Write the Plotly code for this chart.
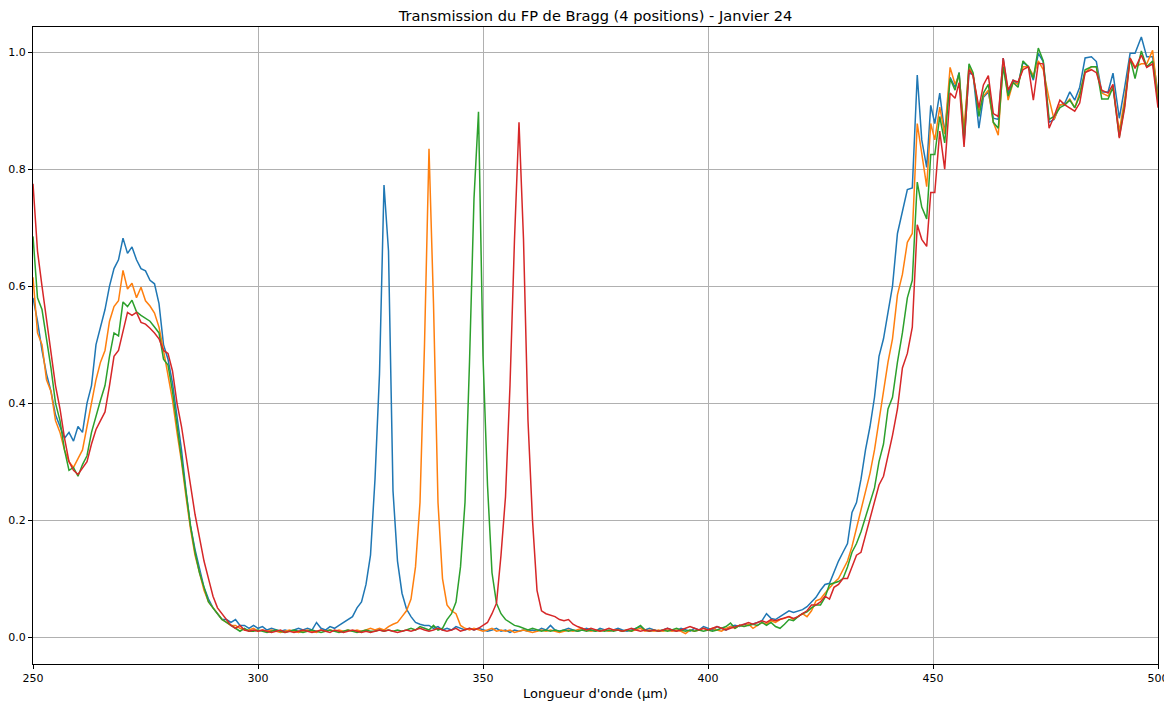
import plotly.graph_objects as go

# Wavelength sampling (µm): 1 µm steps, then ~1.1 µm steps
wl_left = list(range(250, 442))
wl_right = [442.1, 443.2, 444.3, 445.4, 446.5, 447.5, 448.6, 449.5, 450.4, 451.5,
            452.6, 453.8, 454.9, 455.8, 456.9, 458.0, 458.9, 460.2, 461.2, 462.3,
            463.4, 464.5, 465.6, 466.7, 467.8, 468.9, 470.0, 471.2, 472.3, 473.4,
            474.5, 475.8, 476.9, 478.2, 479.3, 480.4, 481.5, 482.6, 483.8, 485.2,
            486.3, 487.5, 488.9, 490.0, 491.4, 492.6, 493.8, 494.9, 496.3, 497.5,
            498.8, 500.0]
wavelength = wl_left + wl_right

pos1 = [
    0.58, 0.54, 0.49, 0.45, 0.42, 0.38, 0.36, 0.34, 0.35, 0.335,
    0.36, 0.35, 0.40, 0.43, 0.50, 0.53, 0.56, 0.60, 0.63, 0.645,
    0.682, 0.656, 0.667, 0.645, 0.63, 0.626, 0.61, 0.604, 0.57, 0.50,
    0.475, 0.434, 0.38, 0.32, 0.25, 0.19, 0.15, 0.115, 0.085, 0.065,
    0.05, 0.04, 0.03, 0.03, 0.025, 0.03, 0.02, 0.02, 0.015, 0.02,
    0.015, 0.018, 0.012, 0.015, 0.012, 0.01, 0.012, 0.01, 0.012, 0.015,
    0.012, 0.015, 0.012, 0.025, 0.015, 0.012, 0.018, 0.015, 0.02, 0.025,
    0.03, 0.035, 0.05, 0.06, 0.09, 0.14, 0.27, 0.45, 0.773, 0.66,
    0.25, 0.13, 0.075, 0.048, 0.035, 0.025, 0.022, 0.02, 0.02, 0.015,
    0.018, 0.012, 0.015, 0.012, 0.018, 0.015, 0.012, 0.015, 0.012, 0.015,
    0.012, 0.01, 0.012, 0.015, 0.01, 0.012, 0.008, 0.012, 0.01, 0.012,
    0.01, 0.012, 0.01, 0.015, 0.012, 0.02, 0.012, 0.01, 0.012, 0.015,
    0.012, 0.01, 0.012, 0.015, 0.012, 0.01, 0.015, 0.012, 0.01, 0.012,
    0.015, 0.012, 0.01, 0.012, 0.015, 0.018, 0.012, 0.015, 0.012, 0.01,
    0.012, 0.015, 0.012, 0.01, 0.015, 0.012, 0.01, 0.015, 0.012, 0.018,
    0.015, 0.012, 0.018, 0.015, 0.012, 0.018, 0.02, 0.018, 0.022, 0.02,
    0.022, 0.025, 0.028, 0.04, 0.032, 0.03, 0.035, 0.04, 0.045, 0.042,
    0.045, 0.047, 0.052, 0.06, 0.068, 0.08, 0.09, 0.092, 0.112, 0.13,
    0.145, 0.16, 0.213, 0.23, 0.27, 0.32, 0.36, 0.41, 0.48, 0.51,
    0.555, 0.60,
    0.69, 0.725, 0.765, 0.768, 0.961, 0.85, 0.803, 0.909, 0.878, 0.93,
    0.861, 0.957, 0.94, 0.965, 0.844, 0.964, 0.962, 0.87, 0.923, 0.932,
    0.887, 0.885, 0.99, 0.93, 0.952, 0.945, 0.983, 0.975, 0.952, 0.998,
    0.984, 0.88, 0.885, 0.909, 0.913, 0.932, 0.918, 0.94, 0.99, 0.992,
    0.984, 0.932, 0.932, 0.964, 0.887, 0.94, 0.998, 0.998, 1.026, 0.992,
    0.992, 0.93,
]

pos2 = [
    0.615, 0.52, 0.50, 0.44, 0.42, 0.37, 0.35, 0.32, 0.30, 0.29,
    0.305, 0.32, 0.36, 0.40, 0.44, 0.47, 0.49, 0.54, 0.565, 0.575,
    0.627, 0.595, 0.605, 0.58, 0.598, 0.575, 0.566, 0.554, 0.53, 0.49,
    0.45, 0.405, 0.35, 0.30, 0.24, 0.185, 0.14, 0.11, 0.08, 0.06,
    0.05, 0.04, 0.03, 0.025, 0.02, 0.02, 0.015, 0.012, 0.012, 0.015,
    0.01, 0.012, 0.01, 0.012, 0.01, 0.008, 0.01, 0.012, 0.01, 0.008,
    0.01, 0.012, 0.01, 0.008, 0.012, 0.01, 0.012, 0.01, 0.012, 0.01,
    0.012, 0.01, 0.012, 0.01, 0.012, 0.015, 0.012, 0.015, 0.012, 0.018,
    0.022, 0.025, 0.035, 0.045, 0.065, 0.12, 0.23, 0.50, 0.835, 0.57,
    0.23, 0.10, 0.055, 0.045, 0.04, 0.02, 0.015, 0.012, 0.015, 0.012,
    0.01, 0.012, 0.015, 0.01, 0.012, 0.01, 0.012, 0.008, 0.01, 0.012,
    0.01, 0.008, 0.01, 0.012, 0.01, 0.012, 0.01, 0.008, 0.01, 0.012,
    0.01, 0.012, 0.015, 0.012, 0.01, 0.012, 0.01, 0.012, 0.01, 0.012,
    0.012, 0.01, 0.012, 0.01, 0.012, 0.015, 0.01, 0.012, 0.01, 0.012,
    0.01, 0.012, 0.01, 0.012, 0.01, 0.006, 0.012, 0.01, 0.012, 0.015,
    0.012, 0.015, 0.012, 0.01, 0.015, 0.018, 0.015, 0.02, 0.018, 0.022,
    0.015, 0.02, 0.025, 0.022, 0.028, 0.025, 0.03, 0.032, 0.035, 0.03,
    0.035, 0.04, 0.035, 0.045, 0.062, 0.065, 0.075, 0.085, 0.093, 0.10,
    0.115, 0.13, 0.155, 0.185, 0.215, 0.245, 0.28, 0.32, 0.37, 0.42,
    0.47, 0.51,
    0.585, 0.62, 0.675, 0.69, 0.878, 0.827, 0.77, 0.878, 0.85, 0.906,
    0.86, 0.974, 0.945, 0.96, 0.87, 0.975, 0.96, 0.90, 0.925, 0.935,
    0.88, 0.858, 0.985, 0.918, 0.948, 0.945, 0.975, 0.975, 0.96, 0.985,
    0.97, 0.92, 0.885, 0.91, 0.91, 0.92, 0.905, 0.93, 0.965, 0.975,
    0.975, 0.93, 0.925, 0.94, 0.865, 0.92, 0.99, 0.975, 0.98, 0.98,
    1.003, 0.92,
]

pos3 = [
    0.685, 0.58, 0.56, 0.51, 0.46, 0.40, 0.37, 0.32, 0.285, 0.29,
    0.275, 0.295, 0.31, 0.35, 0.38, 0.405, 0.43, 0.48, 0.52, 0.515,
    0.573, 0.565, 0.576, 0.556, 0.55, 0.545, 0.54, 0.53, 0.52, 0.475,
    0.465, 0.42, 0.36, 0.30, 0.245, 0.19, 0.145, 0.11, 0.085, 0.06,
    0.05, 0.04, 0.03, 0.025, 0.02, 0.015, 0.01, 0.015, 0.01, 0.01,
    0.012, 0.01, 0.008, 0.01, 0.012, 0.01, 0.008, 0.01, 0.012, 0.01,
    0.008, 0.01, 0.012, 0.01, 0.008, 0.01, 0.012, 0.01, 0.008, 0.01,
    0.012, 0.01, 0.008, 0.01, 0.012, 0.01, 0.01, 0.012, 0.01, 0.012,
    0.01, 0.012, 0.01, 0.012, 0.015, 0.012, 0.018, 0.015, 0.012, 0.02,
    0.012, 0.015, 0.03, 0.04, 0.06, 0.12, 0.23, 0.47, 0.75, 0.898,
    0.48, 0.26, 0.11, 0.058, 0.04, 0.03, 0.025, 0.02, 0.018, 0.015,
    0.012, 0.015, 0.012, 0.01, 0.012, 0.01, 0.012, 0.01, 0.012, 0.01,
    0.012, 0.01, 0.012, 0.01, 0.012, 0.01, 0.012, 0.01, 0.012, 0.01,
    0.012, 0.01, 0.012, 0.01, 0.015, 0.02, 0.012, 0.01, 0.012, 0.01,
    0.012, 0.01, 0.012, 0.015, 0.012, 0.01, 0.012, 0.01, 0.012, 0.01,
    0.012, 0.01, 0.012, 0.015, 0.018, 0.024, 0.015, 0.02, 0.018, 0.02,
    0.022, 0.02, 0.025, 0.02, 0.025, 0.018, 0.015, 0.022, 0.03, 0.028,
    0.035, 0.04, 0.043, 0.05, 0.055, 0.055, 0.068, 0.09, 0.092, 0.095,
    0.10, 0.12, 0.145, 0.16, 0.18, 0.205, 0.23, 0.255, 0.30, 0.33,
    0.39, 0.41,
    0.47, 0.52, 0.58, 0.61, 0.778, 0.735, 0.715, 0.825, 0.825, 0.89,
    0.845, 0.955, 0.935, 0.965, 0.85, 0.98, 0.965, 0.89, 0.93, 0.945,
    0.88, 0.87, 0.975, 0.925, 0.948, 0.94, 0.985, 0.975, 0.955, 1.007,
    0.985, 0.885, 0.89, 0.905, 0.91, 0.918, 0.905, 0.925, 0.97, 0.975,
    0.975, 0.92, 0.92, 0.94, 0.855, 0.91, 0.99, 0.955, 1.002, 0.975,
    0.985, 0.915,
]

pos4 = [
    0.775, 0.66, 0.60, 0.54, 0.48, 0.43, 0.39, 0.34, 0.30, 0.285,
    0.278, 0.29, 0.30, 0.33, 0.355, 0.37, 0.385, 0.43, 0.48, 0.49,
    0.525, 0.555, 0.55, 0.555, 0.538, 0.535, 0.528, 0.52, 0.51, 0.49,
    0.485, 0.455, 0.40, 0.36, 0.31, 0.26, 0.21, 0.17, 0.13, 0.10,
    0.07, 0.05, 0.04, 0.03, 0.02, 0.015, 0.02, 0.012, 0.01, 0.012,
    0.01, 0.012, 0.01, 0.008, 0.01, 0.012, 0.008, 0.01, 0.008, 0.01,
    0.012, 0.01, 0.008, 0.01, 0.012, 0.01, 0.008, 0.012, 0.01, 0.008,
    0.01, 0.012, 0.01, 0.008, 0.01, 0.008, 0.01, 0.012, 0.01, 0.012,
    0.01, 0.008, 0.01, 0.012, 0.01, 0.012, 0.015, 0.012, 0.01, 0.012,
    0.015, 0.012, 0.01, 0.012, 0.015, 0.01, 0.012, 0.015, 0.012, 0.015,
    0.02, 0.025, 0.04, 0.058, 0.14, 0.24, 0.43, 0.68, 0.88, 0.68,
    0.37, 0.20, 0.08, 0.045, 0.04, 0.038, 0.035, 0.03, 0.028, 0.03,
    0.022, 0.018, 0.015, 0.012, 0.015, 0.012, 0.01, 0.012, 0.015, 0.012,
    0.012, 0.01, 0.012, 0.015, 0.012, 0.01, 0.012, 0.01, 0.012, 0.01,
    0.012, 0.015, 0.012, 0.01, 0.012, 0.015, 0.018, 0.015, 0.012, 0.015,
    0.012, 0.015, 0.018, 0.015, 0.012, 0.015, 0.018, 0.02, 0.022, 0.025,
    0.022, 0.025, 0.028, 0.025, 0.03, 0.028, 0.03, 0.032, 0.035, 0.032,
    0.035, 0.04, 0.045, 0.055, 0.055, 0.06, 0.07, 0.065, 0.085, 0.09,
    0.10, 0.10, 0.12, 0.14, 0.145, 0.175, 0.20, 0.23, 0.26, 0.275,
    0.31, 0.345,
    0.39, 0.46, 0.485, 0.53, 0.705, 0.68, 0.668, 0.76, 0.76, 0.865,
    0.80, 0.93, 0.921, 0.948, 0.838, 0.97, 0.96, 0.905, 0.944, 0.96,
    0.895, 0.89, 0.99, 0.935, 0.952, 0.949, 0.97, 0.975, 0.918, 0.981,
    0.98, 0.87, 0.89, 0.918, 0.91, 0.905, 0.899, 0.913, 0.965, 0.97,
    0.965, 0.935, 0.93, 0.945, 0.853, 0.905, 0.99, 0.972, 0.995, 0.974,
    0.98, 0.905,
]

series = [pos1, pos2, pos3, pos4]
colors = ["#1f77b4", "#ff7f0e", "#2ca02c", "#d62728"]
names = ["Position 1", "Position 2", "Position 3", "Position 4"]
x_ticks = [250, 300, 350, 400, 450, 500]
y_ticks = [0.0, 0.2, 0.4, 0.6, 0.8, 1.0]

fig = go.Figure()
for ys, c, n in zip(series, colors, names):
    fig.add_trace(go.Scatter(x=wavelength, y=ys, mode="lines", name=n,
                             line=dict(color=c, width=1.5)))

axis_common = dict(
    showgrid=True, gridcolor="#b0b0b0", gridwidth=0.8,
    showline=True, linecolor="black", linewidth=1, mirror=True,
    ticks="outside", ticklen=4, tickcolor="black", tickwidth=1,
    zeroline=False, automargin=False,
    tickfont=dict(family="DejaVu Sans", size=11, color="black"),
)

# The page body adds an 8 px offset; the figure is sized to fill the rest of the window.
W, H = 1164, 694
fig.update_layout(
    width=W, height=H,
    margin=dict(l=25, r=14, t=19, b=38),
    paper_bgcolor="white", plot_bgcolor="white",
    showlegend=False,
    title=dict(text="Transmission du FP de Bragg (4 positions) - Janvier 24",
               x=0.5, xanchor="center", xref="paper",
               y=1 - 8 / H, yref="container", yanchor="middle",
               font=dict(family="DejaVu Sans", size=14.6, color="black")),
    xaxis=dict(range=[250, 500], tickvals=x_ticks,
               title=dict(text="Longueur d'onde (µm)", standoff=4,
                          font=dict(family="DejaVu Sans", size=13, color="black")),
               **axis_common),
    yaxis=dict(range=[-0.046, 1.043], tickvals=y_ticks, tickformat=".1f",
               **axis_common),
)

fig.write_html("out.html")
